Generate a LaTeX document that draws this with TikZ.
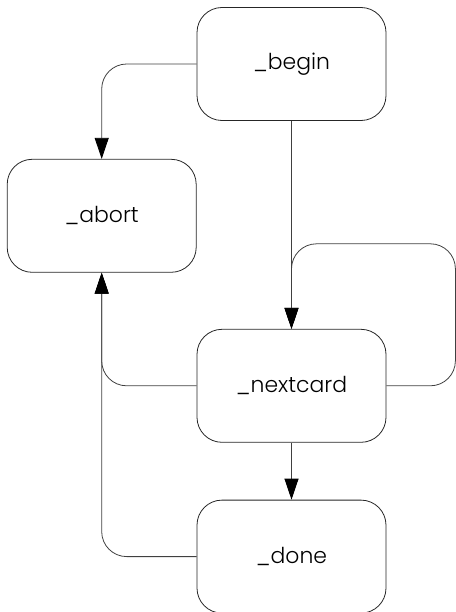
\documentclass[tikz,border=0pt]{standalone}
\usepackage{fontspec}
\setmainfont{Poppins}[UprightFont=* Light]
\usepackage{tikz}
\usetikzlibrary{positioning,arrows.meta}

\begin{document}
\begin{tikzpicture}[x=1bp,y=1bp,font=\fontsize{22}{26}\selectfont,
    state/.style={rectangle,rounded corners=25bp,draw=black!85,line width=0.8bp,
        minimum width=189bp,minimum height=113bp,text centered},
    flow/.style={-{Triangle[length=21bp,width=14bp,color=black,fill=black]},draw=black!75,line width=0.8bp,rounded corners=25bp}]
    \useasboundingbox (0,0) rectangle (456,-612);

    \node[state] (begin) at (291.5,-64) {\_begin};
    \node[state, below left=38bp and 0bp of begin] (abort) {\_abort};
    \node[state, below=208bp of begin] (nextcard) {\_nextcard};
    \node[state, below=57bp of nextcard] (done) {\_done};

    \draw[flow] (begin.west) -| (abort.north);
    \draw[flow] (begin.south) -- (nextcard.north);
    % loop back into itself
    \draw[flow] (nextcard.east) -- ++(69,0) -- ++(0,142) -| (nextcard.north);
    \draw[flow] (nextcard.west) -| (abort.south);
    \draw[flow] (done.west) -| (abort.south);
    \draw[flow] (nextcard.south) -- (done.north);
\end{tikzpicture}
\end{document}
